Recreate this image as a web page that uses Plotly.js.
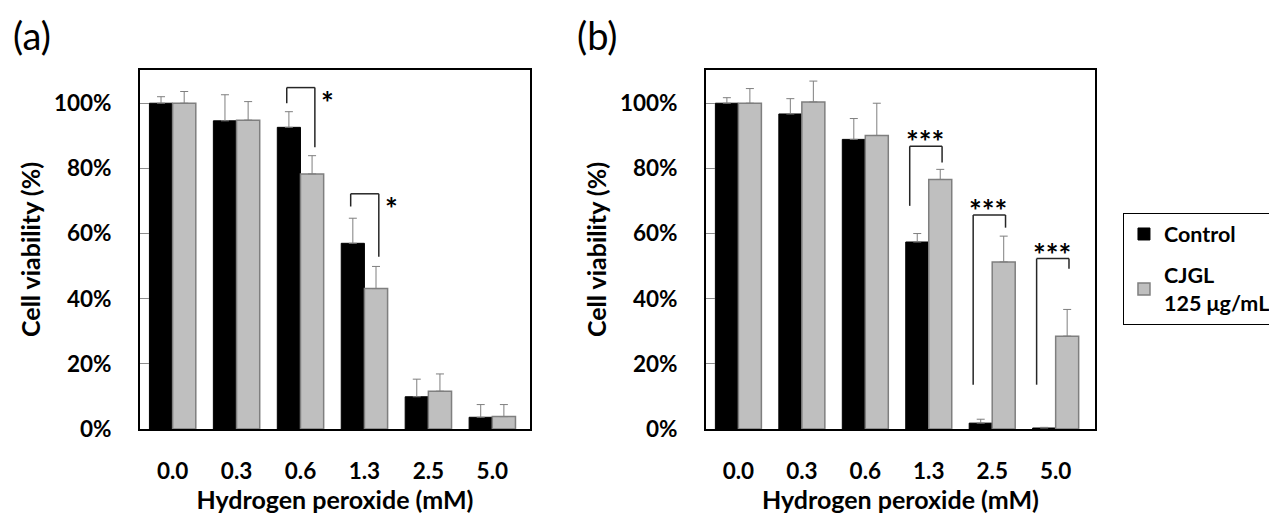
<!DOCTYPE html>
<html>
<head>
<meta charset="utf-8">
<script src="https://cdn.plot.ly/plotly-3.0.1.min.js"></script>
<style>html,body{margin:0;padding:0;background:#fff;}#chart{width:1269px;height:514px;}</style>
</head>
<body>
<div id="chart"></div>
<script>
// Hydrogen peroxide concentrations (mM)
const categories = ['0.0', '0.3', '0.6', '1.3', '2.5', '5.0'];

// Panel (a) — cell viability (%)
const controlA    = [100, 94.6, 92.6, 57.0, 9.9, 3.6];
const controlErrA = [2.0, 8.0, 4.8, 7.7, 5.4, 3.9];
const cjglA       = [100, 94.8, 78.3, 43.1, 11.6, 3.8];
const cjglErrA    = [3.6, 5.7, 5.6, 6.8, 5.3, 3.7];

// Panel (b) — cell viability (%)
const controlB    = [100, 96.7, 88.9, 57.4, 1.8, 0.3];
const controlErrB = [1.7, 4.7, 6.4, 2.6, 1.2, 0.2];
const cjglB       = [100, 100.4, 90.1, 76.6, 51.3, 28.5];
const cjglErrB    = [4.5, 6.4, 9.9, 3.1, 7.9, 8.2];

const noMinus = [0, 0, 0, 0, 0, 0];

const yTickVals = [0, 20, 40, 60, 80, 100];
const yTickText = ['0%', '20%', '40%', '60%', '80%', '100%'];

const seriesNames = ['<b>Control</b>', '<b>CJGL</b><br><b>125 μg/mL</b>'];

// significance brackets: category, bracket top, left-leg end, right-leg end (in %), label
const sigA = [
  {cat: 2, top: 104.8, left: 100.0, right: 86.5, label: '*'},
  {cat: 3, top: 72.2, left: 68.3, right: 52.9, label: '*'}
];
const sigB = [
  {cat: 3, top: 86.8, left: 68.5, right: 81.8, label: '***'},
  {cat: 4, top: 65.7, left: 13.6, right: 61.8, label: '***'},
  {cat: 5, top: 52.3, left: 13.6, right: 49.2, label: '***'}
];

const FONT = 'Lato, "Open Sans", sans-serif';
const errStyle = {type: 'data', symmetric: false, arrayminus: noMinus, color: '#7f7f7f', thickness: 1, width: 4, visible: true};

function barTrace(y, err, i, xa, ya, show) {
  return {
    type: 'bar', x: categories, y: y, name: seriesNames[i],
    xaxis: xa, yaxis: ya, showlegend: show, legendgroup: 'g' + i,
    marker: i === 0 ? {color: '#000000', line: {color: '#000000', width: 1}}
                    : {color: '#bfbfbf', line: {color: '#7f7f7f', width: 1.5}},
    error_y: Object.assign({}, errStyle, {array: err}),
    hoverinfo: 'x+y'
  };
}

const data = [
  barTrace(controlA, controlErrA, 0, 'x', 'y', true),
  barTrace(cjglA, cjglErrA, 1, 'x', 'y', true),
  barTrace(controlB, controlErrB, 0, 'x2', 'y2', false),
  barTrace(cjglB, cjglErrB, 1, 'x2', 'y2', false)
];

const shapes = [];
const annotations = [];
function addBrackets(list, xr, yr, dl, dr, starDx, starDy, fs) {
  list.forEach(s => {
    const xl = s.cat + dl, xrr = s.cat + dr;
    const line = {color: '#262626', width: 1.5};
    shapes.push({type: 'line', xref: xr, yref: yr, x0: xl, x1: xl, y0: s.left, y1: s.top, line: line});
    shapes.push({type: 'line', xref: xr, yref: yr, x0: xl, x1: xrr, y0: s.top, y1: s.top, line: line});
    shapes.push({type: 'line', xref: xr, yref: yr, x0: xrr, x1: xrr, y0: s.top, y1: s.right, line: line});
    annotations.push({xref: xr, yref: yr, x: s.cat + starDx, y: s.top + starDy, text: '<b>' + s.label + '</b>',
      showarrow: false, xanchor: 'center', yanchor: 'middle', font: {family: FONT, size: fs, color: '#000'}});
  });
}
addBrackets(sigA, 'x', 'y', -0.215, 0.225, 0.42, -4.5, 30);
addBrackets(sigB, 'x2', 'y2', -0.30, 0.21, -0.06, 1.5, 30);

annotations.push({xref: 'paper', yref: 'paper', x: -0.1136, y: 1.097, text: '(a)', showarrow: false,
  xanchor: 'center', yanchor: 'middle', font: {family: FONT, size: 38, color: '#000'}});
annotations.push({xref: 'paper', yref: 'paper', x: 0.4785, y: 1.097, text: '(b)', showarrow: false,
  xanchor: 'center', yanchor: 'middle', font: {family: FONT, size: 38, color: '#000'}});

const tickFont = {family: FONT, size: 22.5, color: '#000', weight: 'bold'};
const titleFont = {family: FONT, size: 25, color: '#000', weight: 'bold'};

function xAxis(domain, range, anchor) {
  return {
    domain: domain, anchor: anchor, type: 'category', range: range,
    showline: true, mirror: true, linecolor: '#000', linewidth: 2,
    ticks: '', showgrid: false, zeroline: false,
    tickfont: tickFont, ticklabelstandoff: 21,
    title: {text: 'Hydrogen peroxide (mM)', font: titleFont, standoff: 8},
    fixedrange: true
  };
}
function yAxis(anchor) {
  return {
    anchor: anchor, range: [0, 110.2], tickvals: yTickVals, ticktext: yTickText,
    showline: true, mirror: true, linecolor: '#000', linewidth: 2,
    ticks: 'inside', ticklen: 9, tickcolor: '#8c8c8c', tickwidth: 1,
    showgrid: false, zeroline: false,
    tickfont: tickFont, ticklabelstandoff: 22,
    title: {text: 'Cell viability (%)', font: titleFont, standoff: 6},
    fixedrange: true
  };
}

const layout = {
  width: 1269, height: 514,
  margin: {l: 140, r: 174, t: 70, b: 84.5, autoexpand: false},
  paper_bgcolor: '#fff', plot_bgcolor: '#fff',
  font: {family: FONT, color: '#000'},
  barmode: 'group', bargap: 0.275, bargroupgap: 0,
  xaxis: xAxis([0, 0.4084], [-0.51, 5.59], 'y'),
  yaxis: yAxis('x'),
  xaxis2: xAxis([0.5927, 1], [-0.51, 5.62], 'y2'),
  yaxis2: yAxis('x2'),
  showlegend: true,
  legend: {
    x: 1.0293, xanchor: 'left', y: 0.603, yanchor: 'top',
    bordercolor: '#000', borderwidth: 1, bgcolor: '#fff',
    font: {family: FONT, size: 21.5, color: '#000'},
    traceorder: 'grouped', tracegroupgap: 10, itemclick: false, itemdoubleclick: false
  },
  shapes: shapes, annotations: annotations
};

Plotly.newPlot('chart', data, layout, {displayModeBar: false, staticPlot: true});
</script>
</body>
</html>
